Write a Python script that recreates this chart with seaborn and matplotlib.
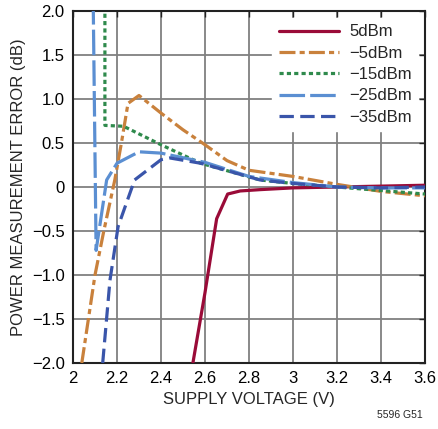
import matplotlib
matplotlib.use("Agg")
import matplotlib.pyplot as plt
import seaborn as sns
import pandas as pd
from matplotlib import font_manager

# series (supply voltage V, error dB)
v_5 = [2.545, 2.60, 2.653, 2.703, 2.76, 2.85, 3.0, 3.2, 3.4, 3.6]
e_5 = [-2.0, -1.2, -0.36, -0.08, -0.045, -0.03, -0.01, 0.0, 0.01, 0.02]

v_m5 = [2.04, 2.07, 2.10, 2.14, 2.19, 2.22, 2.25, 2.30, 2.40, 2.50, 2.60, 2.70, 2.80, 3.0, 3.2, 3.4, 3.6]
e_m5 = [-2.0, -1.5, -1.0, -0.5, 0.08, 0.5, 0.95, 1.04, 0.84, 0.65, 0.48, 0.30, 0.19, 0.12, 0.03, -0.05, -0.10]

v_m15 = [2.145, 2.145, 2.23, 2.40, 2.58, 2.85, 3.0, 3.2, 3.4, 3.6]
e_m15 = [2.5, 0.70, 0.69, 0.48, 0.27, 0.08, 0.04, 0.0, -0.04, -0.08]

v_m25 = [2.09, 2.105, 2.153, 2.20, 2.30, 2.40, 2.60, 2.80, 3.0, 3.2, 3.4, 3.6]
e_m25 = [2.5, -0.72, 0.08, 0.27, 0.40, 0.385, 0.28, 0.12, 0.05, 0.0, -0.01, -0.01]

v_m35 = [2.135, 2.168, 2.205, 2.28, 2.40, 2.44, 2.58, 2.85, 3.0, 3.2, 3.4, 3.6]
e_m35 = [-2.0, -1.06, -0.45, 0.08, 0.31, 0.33, 0.27, 0.08, 0.04, 0.0, -0.01, 0.0]

labels = ["5dBm", "\u22125dBm", "\u221215dBm", "\u221225dBm", "\u221235dBm"]
colors = ["#9a0b38", "#c9813c", "#2f8a4c", "#5b8fd2", "#3a55aa"]
dashes = [None, (5, 1.3, 1.6, 1.3), (1.3, 1.0), (8, 1.6), (4.5, 2)]

x_ticks = [2.0, 2.2, 2.4, 2.6, 2.8, 3.0, 3.2, 3.4, 3.6]
x_labels = ["2", "2.2", "2.4", "2.6", "2.8", "3", "3.2", "3.4", "3.6"]
y_ticks = [2.0, 1.5, 1.0, 0.5, 0.0, -0.5, -1.0, -1.5, -2.0]
y_labels = ["2.0", "1.5", "1.0", "0.5", "0", "\u22120.5", "\u22121.0", "\u22121.5", "\u22122.0"]

sns.set_style("white")
names = [f.name for f in font_manager.fontManager.ttflist]
fam = "Liberation Sans Narrow" if "Liberation Sans Narrow" in names else "Liberation Sans"
plt.rcParams["font.family"] = [fam, "DejaVu Sans"]

fig = plt.figure(figsize=(4.38, 4.29), dpi=100)
ax = fig.add_axes([73 / 438, 1 - 363 / 429, 352 / 438, 352 / 429])

series = [(v_5, e_5), (v_m5, e_m5), (v_m15, e_m15), (v_m25, e_m25), (v_m35, e_m35)]
for (vx, ey), lab, col, ds in zip(series, labels, colors, dashes):
    df = pd.DataFrame({"v": vx, "e": ey})
    sns.lineplot(data=df, x="v", y="e", sort=False, estimator=None, color=col,
                 lw=2.3, ax=ax, label=lab, zorder=3)
    if ds is not None:
        ax.lines[-1].set_dashes(ds)

ax.set_xlim(2.0, 3.6)
ax.set_ylim(-2.0, 2.0)
ax.set_xticks(x_ticks)
ax.set_xticklabels(x_labels)
ax.set_yticks(y_ticks)
ax.set_yticklabels(y_labels)
ax.grid(True, color="#808080", lw=1.3)
ax.set_axisbelow(True)
for s in ax.spines.values():
    s.set_color("#222222")
    s.set_linewidth(1.5)
ax.tick_params(direction="in", length=4, width=1, right=True, top=True,
               labelsize=12, pad=6, colors="#222222", labelcolor="black")

ax.set_xlabel("SUPPLY VOLTAGE (V)", fontsize=12, labelpad=4)
ax.set_ylabel("POWER MEASUREMENT ERROR (dB)", fontsize=12, labelpad=4)

leg = ax.legend(loc="upper right", frameon=True, fontsize=12, handlelength=3.6,
                handletextpad=0.6, labelspacing=0.38, borderaxespad=0.4)
leg.get_frame().set_edgecolor("white")
leg.get_frame().set_facecolor("white")
leg.get_frame().set_alpha(1.0)
leg.set_zorder(5)

fig.text(0.965, 0.02, "5596 G51", fontsize=7.5, ha="right", va="bottom")

fig.savefig("out.png", dpi=100)
